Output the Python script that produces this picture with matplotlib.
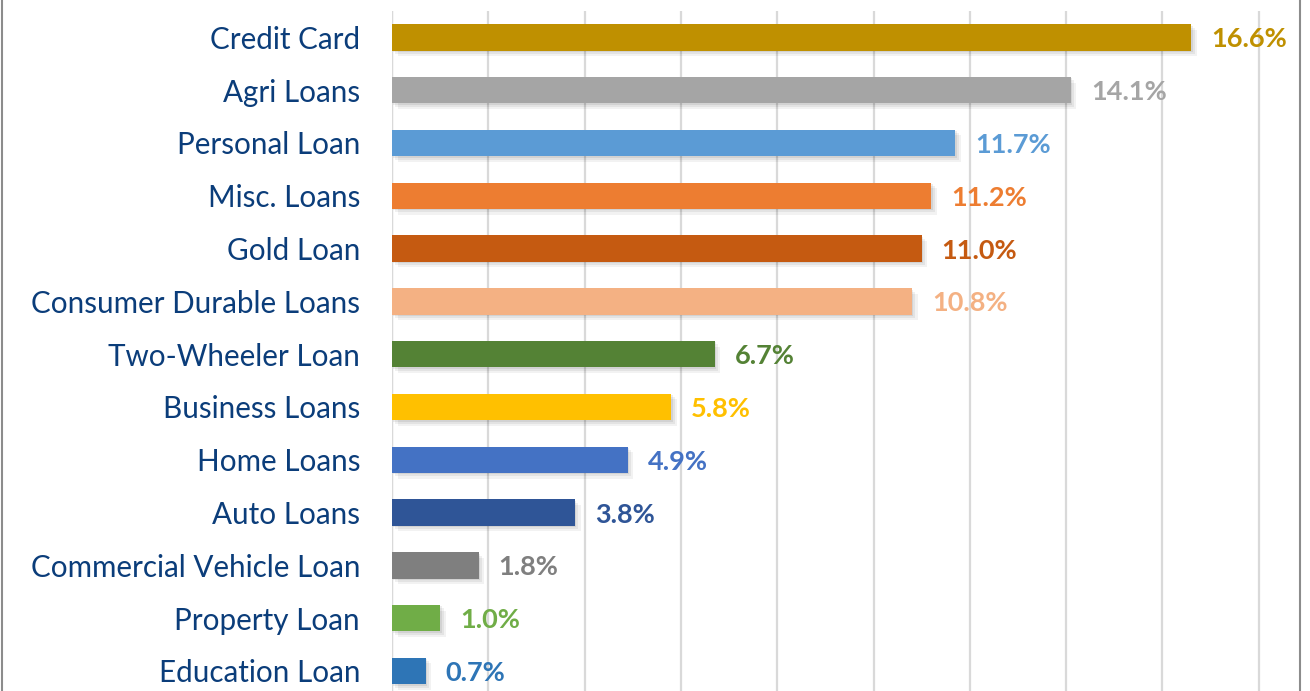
import numpy as np
import matplotlib.pyplot as plt
import matplotlib.patheffects as pe
from matplotlib.lines import Line2D

categories = ['Credit Card', 'Agri Loans', 'Personal Loan', 'Misc. Loans', 'Gold Loan',
              'Consumer Durable Loans', 'Two-Wheeler Loan', 'Business Loans', 'Home Loans',
              'Auto Loans', 'Commercial Vehicle Loan', 'Property Loan', 'Education Loan']
values = [16.6, 14.1, 11.7, 11.2, 11.0, 10.8, 6.7, 5.8, 4.9, 3.8, 1.8, 1.0, 0.7]
colors = ['#BF9000', '#A5A5A5', '#5B9BD5', '#ED7D31', '#C55A11', '#F4B183', '#548235',
          '#FFC000', '#4472C4', '#2F5597', '#7F7F7F', '#70AD47', '#2E75B6']

plt.rcParams['font.family'] = ['Lato', 'DejaVu Sans']

W, H = 1310, 691
fig = plt.figure(figsize=(W / 100, H / 100), dpi=100)
# axes placed in pixel terms: left 392, right 1300, top 11, bottom 691
ax = fig.add_axes([392 / W, 0, (1300 - 392) / W, (691 - 11) / H])

y = np.arange(len(categories))
shadow = [pe.SimplePatchShadow(offset=(4, -4), shadow_rgbFace='#000000', alpha=0.05),
          pe.SimplePatchShadow(offset=(2.5, -2.5), shadow_rgbFace='#000000', alpha=0.06),
          pe.SimplePatchShadow(offset=(1, -1), shadow_rgbFace='#000000', alpha=0.07),
          pe.Normal()]
bars = ax.barh(y, values, height=0.5, color=colors, zorder=3)
for b in bars:
    b.set_path_effects(shadow)

px_per_unit = 52.8
ax.set_ylim(-0.5 + 680 / px_per_unit, -0.5)
xmax = (1300 - 392) / 48.15
ax.set_xlim(0, xmax)

for v, yi, c in zip(values, y, colors):
    ax.annotate(f'{v:.1f}%', (v, yi), xytext=(20, -2), textcoords='offset pixels',
                va='center', ha='left', fontsize=19.5, fontweight='bold', color=c,
                annotation_clip=False)

ax.set_xticks(np.arange(0, 19, 2))
ax.xaxis.grid(True, color='#D9D9D9', linewidth=1.6, zorder=0)
ax.tick_params(axis='x', length=0, labelbottom=False)
ax.tick_params(axis='y', length=0, pad=23)
ax.set_yticks(y)
ax.set_yticklabels(categories, fontsize=21.3, color='#0B3D7A')
for s in ax.spines.values():
    s.set_visible(False)
ax.axvline(0, color='#D0D0D0', linewidth=1.6, zorder=1)

# outer chart frame (left and right edges)
fig.add_artist(Line2D([1.5 / W, 1.5 / W], [0, 1], color='#8C8C8C', linewidth=1.5))
fig.add_artist(Line2D([1300 / W, 1300 / W], [0, 1], color='#8C8C8C', linewidth=1.5))

fig.savefig('out.png', dpi=100)
